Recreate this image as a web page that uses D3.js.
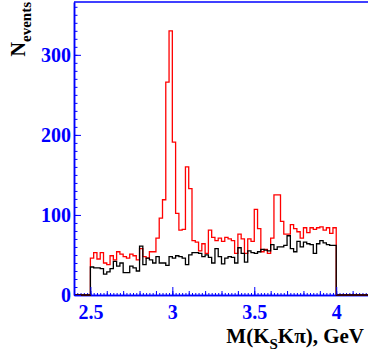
<!DOCTYPE html>
<html>
<head>
<meta charset="utf-8">
<script src="https://cdn.jsdelivr.net/npm/d3@7"></script>
<style>
  body { margin: 0; background: #fff; }
  svg { display: block; }
</style>
</head>
<body>
<svg id="chart" width="368" height="356"></svg>
<script>
// histogram: 75 bins of 0.02 GeV from 2.50 to 4.00
const binStart = 2.5
const binWidth = 0.02

const redCounts = [
    46, 53, 45, 53, 40, 38, 49, 44, 54, 51,
    48, 46, 51, 49, 44, 58, 48, 46, 54, 54,
    71, 96, 119, 266, 330, 191, 102, 81, 82, 160,
    133, 68, 66, 55, 64, 52, 81, 72, 68, 71,
    67, 72, 70, 68, 52, 76, 70, 52, 70, 67,
    107, 83, 54, 57, 52, 71, 125, 125, 92, 76,
    76, 88, 83, 79, 71, 84, 78, 84, 82, 84,
    85, 81, 84, 77, 84
]

const blackCounts = [
    35, 34, 34, 33, 26, 29, 33, 42, 36, 40,
    28, 28, 36, 34, 30, 61, 38, 46, 44, 40,
    48, 40, 40, 37, 48, 46, 49, 48, 46, 38,
    50, 53, 53, 52, 48, 50, 47, 40, 58, 48,
    39, 46, 48, 47, 40, 59, 52, 41, 55, 53,
    52, 54, 57, 56, 55, 63, 57, 60, 60, 62,
    74, 58, 54, 67, 60, 66, 64, 63, 52, 64,
    68, 65, 63, 62, 62
]

const xTicks = [2.5, 3, 3.5, 4]
const yTicks = [0, 100, 200, 300]

const svg = d3.select("#chart")
const margins = { top: 2, right: -1, bottom: 61, left: 74 }
const svgWidth = 368
const svgHeight = 356

const xScale = d3.scaleLinear()
    .domain([2.4, 4.2])
    .range([margins.left, svgWidth - margins.right])
const yScale = d3.scaleLinear()
    .domain([0, 366])
    .range([svgHeight - margins.bottom, margins.top])

const blue = "#0000ff"
const labelFont = "'Liberation Serif', 'Times New Roman', serif"

function styleAxis(g) {
    g.select(".domain").attr("stroke", blue).attr("stroke-width", 1.5)
    g.selectAll(".tick line").attr("stroke", blue).attr("stroke-width", 1)
    g.selectAll("text")
        .attr("fill", blue)
        .attr("font-family", labelFont)
        .attr("font-weight", "bold")
        .attr("font-size", 20)
}

// minor ticks first, major on top
const xSmall = d3.range(2.42, 4.2, 0.02).map(v => +v.toFixed(2))
const xMid = d3.range(2.4, 4.21, 0.1).map(v => +v.toFixed(1))
const yMinor = d3.range(0, 366, 10)

const bottomY = yScale(0)

svg.append("g")
    .attr("transform", `translate(0,${bottomY})`)
    .call(d3.axisBottom(xScale).tickValues(xSmall).tickSize(-2).tickSizeOuter(0).tickFormat(""))
    .call(styleAxis)
svg.append("g")
    .attr("transform", `translate(0,${bottomY})`)
    .call(d3.axisBottom(xScale).tickValues(xMid).tickSize(-4).tickSizeOuter(0).tickFormat(""))
    .call(styleAxis)
svg.append("g")
    .attr("transform", `translate(${margins.left},0)`)
    .call(d3.axisLeft(yScale).tickValues(yMinor).tickSize(-3.5).tickSizeOuter(0).tickFormat(""))
    .call(styleAxis)

// top frame line
svg.append("line")
    .attr("x1", xScale(2.4)).attr("x2", xScale(4.2))
    .attr("y1", yScale(366)).attr("y2", yScale(366))
    .attr("stroke", blue).attr("stroke-width", 1.5)

// histograms
function stepPoints(counts) {
    const pts = [[2.4, 0], [binStart, 0]]
    counts.forEach((c, i) => {
        pts.push([binStart + i * binWidth, c])
        pts.push([binStart + (i + 1) * binWidth, c])
    })
    const end = binStart + counts.length * binWidth
    pts.push([end, 0])
    pts.push([4.2, 0])
    return pts
}

const line = d3.line()
    .x(d => xScale(d[0]))
    .y(d => yScale(d[1]))

svg.append("path")
    .attr("d", line(stepPoints(redCounts)))
    .attr("fill", "none")
    .attr("stroke", "#ff0000")
    .attr("stroke-width", 1.3)

svg.append("path")
    .attr("d", line(stepPoints(blackCounts)))
    .attr("fill", "none")
    .attr("stroke", "#000")
    .attr("stroke-width", 1.3)

// major ticks and labels
svg.append("g")
    .attr("transform", `translate(0,${bottomY})`)
    .call(d3.axisBottom(xScale).tickValues(xTicks).tickSize(-8).tickSizeOuter(0).tickPadding(10)
        .tickFormat(d3.format("")))
    .call(styleAxis)
    .call(g => g.select(".domain").remove())

svg.append("g")
    .attr("transform", `translate(${margins.left},0)`)
    .call(d3.axisLeft(yScale).tickValues(yTicks).tickSize(-7).tickSizeOuter(0).tickPadding(3))
    .call(styleAxis)

// axis titles
const xTitle = svg.append("text")
    .attr("x", 364)
    .attr("y", 343)
    .attr("text-anchor", "end")
    .attr("font-family", labelFont)
    .attr("font-weight", "bold")
    .attr("font-size", 21)
    .attr("fill", "#000")
xTitle.append("tspan").text("M(K")
xTitle.append("tspan").attr("font-size", 15).attr("dy", 6).text("S")
xTitle.append("tspan").attr("dy", -6).text("Kπ), GeV")

const yTitle = svg.append("text")
    .attr("transform", "translate(25,2) rotate(-90)")
    .attr("text-anchor", "end")
    .attr("font-family", labelFont)
    .attr("font-weight", "bold")
    .attr("font-size", 20)
    .attr("fill", "#000")
yTitle.append("tspan").text("N")
yTitle.append("tspan").attr("font-size", 15).attr("dy", 6).text("events")
</script>
</body>
</html>
